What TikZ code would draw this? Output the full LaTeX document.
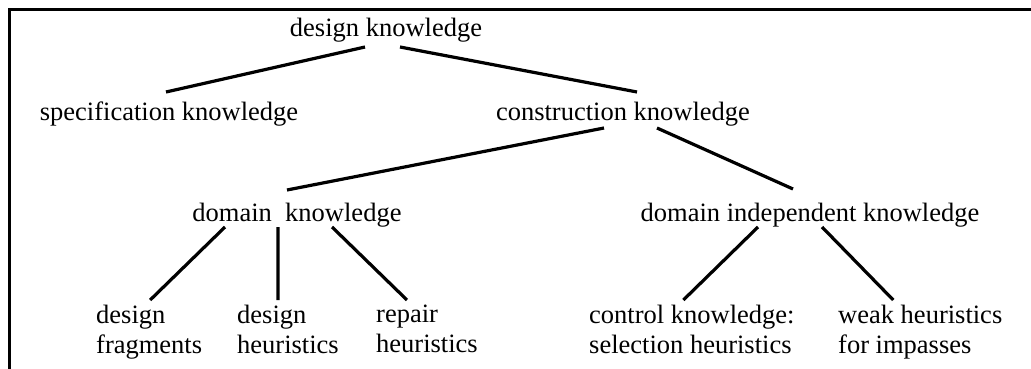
\documentclass[tikz,border=0pt]{standalone}
\usepackage{fontspec}
\setmainfont{Liberation Serif}

\tikzset{
  lbl/.style={font=\fontsize{26.5}{30}\selectfont, inner sep=0pt, anchor=base},
  leaf/.style={lbl, align=left, anchor=north west},
  branch/.style={line width=3.2pt}
}

\begin{document}
\begin{tikzpicture}[x=1pt,y=-1pt]
\useasboundingbox (0,0) rectangle (1031,369);
\draw[line width=3pt] (1031,10) -| (9,369);

\node[lbl] (design) at (386,37) {design knowledge};
\node[lbl] (spec) at (169,120) {specification knowledge};
\node[lbl] (constr) at (623,120) {construction knowledge};
\node[lbl] (domain) at (297,221) {domain\ \ knowledge};
\node[lbl] (indep) at (810,221) {domain independent knowledge};
\node[leaf] (frag) at (96,305) {design\\fragments};
\node[leaf] (heur) at (237,305) {design\\heuristics};
\node[leaf] (repair) at (376,305) {repair\\heuristics};
\node[leaf] (control) at (589,305) {control knowledge:\\selection heuristics};
\node[leaf] (weak) at (838,305) {weak heuristics\\for impasses};

\draw[branch] ([shift={(-21pt,-10pt)}]design.base) -- ([shift={(-3pt,28pt)}]spec.base);
\draw[branch] ([shift={(14pt,-10pt)}]design.base) -- ([shift={(14pt,28pt)}]constr.base);
\draw[branch] ([shift={(-19pt,-8pt)}]constr.base) -- ([shift={(-10pt,31pt)}]domain.base);
\draw[branch] ([shift={(34pt,-8pt)}]constr.base) -- ([shift={(-17pt,32pt)}]indep.base);
\draw[branch] ([shift={(-72pt,-6pt)}]domain.base) -- ([shift={(1pt,5pt)}]frag.north);
\draw[branch] ([shift={(-19pt,-6pt)}]domain.base) -- ([shift={(-10pt,5pt)}]heur.north);
\draw[branch] ([shift={(35pt,-6pt)}]domain.base) -- ([shift={(-20pt,5pt)}]repair.north);
\draw[branch] ([shift={(-52pt,-6pt)}]indep.base) -- ([shift={(-8.5pt,5pt)}]control.north);
\draw[branch] ([shift={(12pt,-6pt)}]indep.base) -- ([shift={(-27pt,5pt)}]weak.north);
\end{tikzpicture}
\end{document}
